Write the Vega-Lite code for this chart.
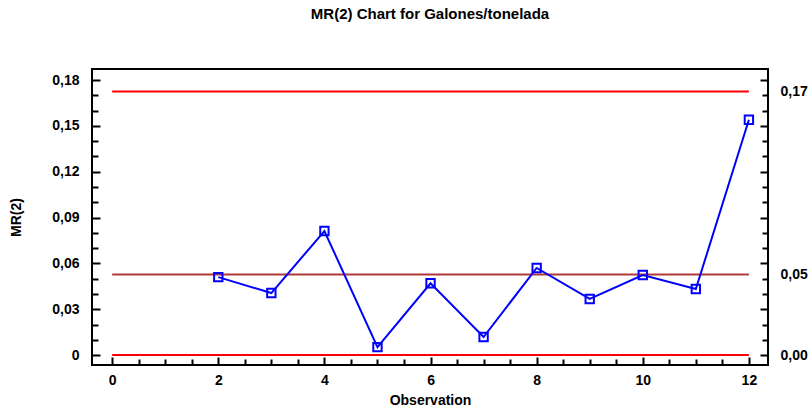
{
  "$schema": "https://vega.github.io/schema/vega-lite/v6.json",
  "width": 676,
  "height": 296,
  "autosize": "none",
  "padding": {"left": 92, "top": 69, "right": 43, "bottom": 45},
  "background": "white",
  "title": {
    "text": "MR(2) Chart for Galones/tonelada",
    "font": "Liberation Sans",
    "fontSize": 15,
    "fontWeight": "bold",
    "color": "black",
    "anchor": "middle",
    "frame": "group",
    "offset": 47
  },
  "config": {
    "view": {"stroke": "black", "strokeWidth": 2},
    "axis": {
      "labelFont": "Liberation Sans",
      "labelFontWeight": "bold",
      "labelFontSize": 14,
      "labelColor": "black",
      "titleFont": "Liberation Sans",
      "titleFontWeight": "bold",
      "titleFontSize": 14,
      "titleColor": "black",
      "domain": false,
      "grid": false,
      "tickColor": "black",
      "tickWidth": 2
    }
  },
  "datasets": {
    "mr": [
      {"observation": 2, "mr": 0.051},
      {"observation": 3, "mr": 0.0406},
      {"observation": 4, "mr": 0.0812},
      {"observation": 5, "mr": 0.0052},
      {"observation": 6, "mr": 0.047},
      {"observation": 7, "mr": 0.0118},
      {"observation": 8, "mr": 0.057},
      {"observation": 9, "mr": 0.0367},
      {"observation": 10, "mr": 0.0524},
      {"observation": 11, "mr": 0.0432},
      {"observation": 12, "mr": 0.154}
    ]
  },
  "resolve": {"axis": {"x": "independent", "y": "independent"}},
  "layer": [
    {
      "data": {
        "values": [
          {"limit": "UCL", "value": 0.1725, "start": 0, "end": 12},
          {"limit": "CL", "value": 0.0527, "start": 0, "end": 12},
          {"limit": "LCL", "value": 0, "start": 0, "end": 12}
        ]
      },
      "mark": {"type": "rule", "strokeWidth": 2},
      "encoding": {
        "x": {
          "field": "start",
          "type": "quantitative",
          "scale": {"domain": [-0.38, 12.36], "nice": false, "zero": false},
          "axis": {
            "orient": "bottom",
            "title": "Observation",
            "values": [0, 2, 4, 6, 8, 10, 12],
            "format": "d",
            "tickSize": -8,
            "labelPadding": 16,
            "titlePadding": 6
          }
        },
        "x2": {"field": "end"},
        "y": {
          "field": "value",
          "type": "quantitative",
          "scale": {"domain": [-0.0065, 0.1872], "nice": false, "zero": false},
          "axis": {
            "orient": "left",
            "title": "MR(2)",
            "values": [0, 0.03, 0.06, 0.09, 0.12, 0.15, 0.18],
            "labelExpr": "datum.value == 0 ? '0' : replace(format(datum.value, '.2f'), '.', ',')",
            "tickSize": -8,
            "labelPadding": 21,
            "titlePadding": 28
          }
        },
        "color": {
          "field": "limit",
          "type": "nominal",
          "scale": {"domain": ["UCL", "CL", "LCL"], "range": ["#ff0000", "#b03a3a", "#ff0000"]},
          "legend": null
        }
      }
    },
    {
      "data": {"name": "mr"},
      "mark": {
        "type": "line",
        "color": "#0000ff",
        "strokeWidth": 2,
        "point": {"filled": false, "shape": "square", "size": 70, "strokeWidth": 2, "color": "#0000ff"}
      },
      "encoding": {
        "x": {
          "field": "observation",
          "type": "quantitative",
          "scale": {"domain": [-0.38, 12.36], "nice": false, "zero": false},
          "axis": {
            "orient": "bottom",
            "title": null,
            "labels": false,
            "values": [0.5, 1, 1.5, 2.5, 3, 3.5, 4.5, 5, 5.5, 6.5, 7, 7.5, 8.5, 9, 9.5, 10.5, 11, 11.5],
            "tickSize": -6,
            "tickColor": "#000000"
          }
        },
        "y": {
          "field": "mr",
          "type": "quantitative",
          "scale": {"domain": [-0.0065, 0.1872], "nice": false, "zero": false},
          "axis": {
            "orient": "right",
            "title": null,
            "values": [0, 0.0527, 0.1725],
            "labelExpr": "replace(format(datum.value, '.2f'), '.', ',')",
            "ticks": false,
            "labelPadding": 12
          }
        }
      }
    },
    {
      "data": {"name": "mr"},
      "mark": {"type": "point", "opacity": 0},
      "encoding": {
        "x": {"field": "observation", "type": "quantitative", "scale": {"domain": [-0.38, 12.36], "nice": false, "zero": false}, "axis": null},
        "y": {
          "field": "mr",
          "type": "quantitative",
          "scale": {"domain": [-0.0065, 0.1872], "nice": false, "zero": false},
          "axis": {
            "orient": "left",
            "title": null,
            "labels": false,
            "values": [0.01, 0.02, 0.04, 0.05, 0.07, 0.08, 0.1, 0.11, 0.13, 0.14, 0.16, 0.17],
            "tickSize": -6,
            "tickColor": "#000000"
          }
        }
      }
    },
    {
      "data": {"name": "mr"},
      "mark": {"type": "point", "opacity": 0},
      "encoding": {
        "x": {"field": "observation", "type": "quantitative", "scale": {"domain": [-0.38, 12.36], "nice": false, "zero": false}, "axis": null},
        "y": {
          "field": "mr",
          "type": "quantitative",
          "scale": {"domain": [-0.0065, 0.1872], "nice": false, "zero": false},
          "axis": {
            "orient": "right",
            "title": null,
            "labels": false,
            "values": [0, 0.03, 0.06, 0.09, 0.12, 0.15, 0.18],
            "tickSize": -8,
            "tickColor": "#000000"
          }
        }
      }
    },
    {
      "data": {"name": "mr"},
      "mark": {"type": "point", "opacity": 0},
      "encoding": {
        "x": {"field": "observation", "type": "quantitative", "scale": {"domain": [-0.38, 12.36], "nice": false, "zero": false}, "axis": null},
        "y": {
          "field": "mr",
          "type": "quantitative",
          "scale": {"domain": [-0.0065, 0.1872], "nice": false, "zero": false},
          "axis": {
            "orient": "right",
            "title": null,
            "labels": false,
            "values": [0.01, 0.02, 0.04, 0.05, 0.07, 0.08, 0.1, 0.11, 0.13, 0.14, 0.16, 0.17],
            "tickSize": -6,
            "tickColor": "#000000"
          }
        }
      }
    }
  ]
}
